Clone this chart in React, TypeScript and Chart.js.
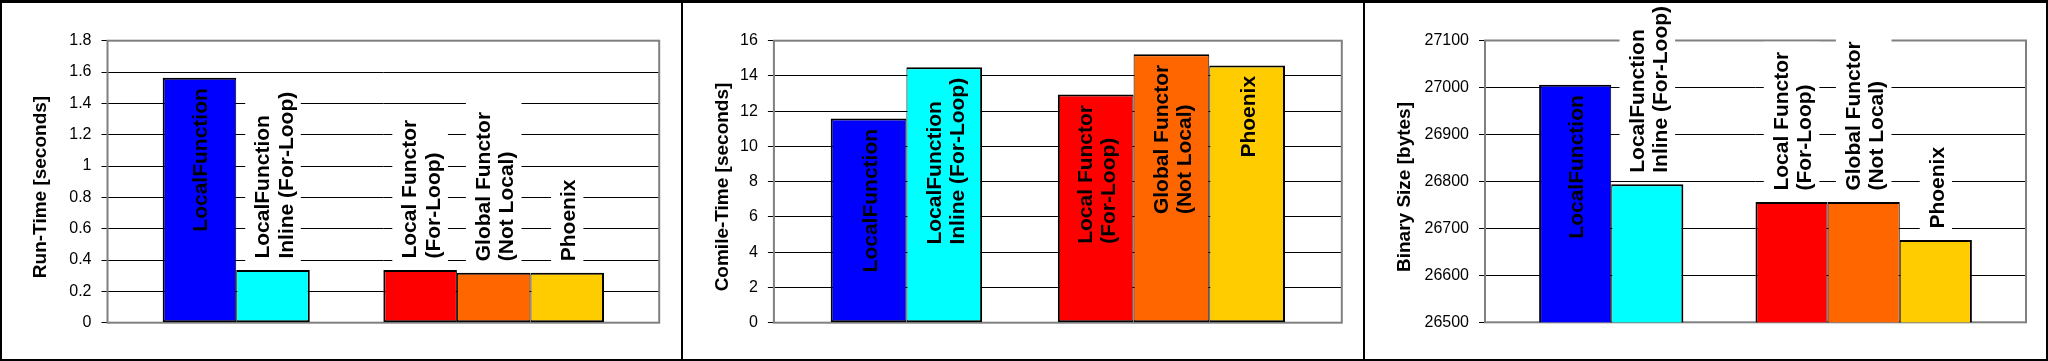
import { useEffect, useRef } from 'react';
import { Chart, registerables } from 'chart.js';

Chart.register(...registerables);

// ---------------- data ----------------
const categories = [''];
const seriesLabels: string[][] = [
  ['LocalFunction'],
  ['LocalFunction', 'Inline (For-Loop)'],
  [],
  ['Local Functor', '(For-Loop)'],
  ['Global Functor', '(Not Local)'],
  ['Phoenix'],
];
const seriesColors = ['#0000FF', '#00FFFF', '#FFFFFF', '#FF0000', '#FF6600', '#FFCC00'];

const runTime = [1.564, 0.336, null, 0.336, 0.319, 0.319];
const compileTime = [11.59, 14.49, null, 12.95, 15.23, 14.6];
const binarySize = [27006, 26794, null, 26756, 26756, 26675];

const runTimeTicks = [0, 0.2, 0.4, 0.6, 0.8, 1, 1.2, 1.4, 1.6, 1.8];
const compileTimeTicks = [0, 2, 4, 6, 8, 10, 12, 14, 16];
const binarySizeTicks = [26500, 26600, 26700, 26800, 26900, 27000, 27100];

const axisTitles = ['Run-Time [seconds]', 'Comile-Time [seconds]', 'Binary Size [bytes]'];

// ---------------- layout ----------------
const FONT = "'Liberation Sans', Arial, Helvetica, sans-serif";
const H = 361;

type PanelProps = {
  values: (number | null)[];
  ticks: number[];
  title: string;
  left: number;
  width: number;
  axisWidth: number;
  padRight: number;
  padTop: number;
  padBottom: number;
  titleBaseX: number;
  titleY: number;
};

function Panel(p: PanelProps) {
  const ref = useRef<HTMLCanvasElement | null>(null);
  useEffect(() => {
    if (!ref.current) return;
    const fs = 21;
    const lineH = 23.3;
    const n = p.values.length;
    const datasets = p.values.map((v, i) => {
      const hasL = i > 0 && p.values[i - 1] != null;
      const hasR = i < n - 1 && p.values[i + 1] != null;
      return {
        label: seriesLabels[i].join(' '),
        data: [v],
        backgroundColor: seriesColors[i],
        borderColor: '#000',
        borderWidth: { top: 2, bottom: 2, left: hasL ? 1 : 2, right: hasR ? 1 : 2 },
        borderSkipped: false,
        inflateAmount: 0,
      };
    });

    const borderPlugin = {
      id: 'plotBorder',
      beforeDatasetsDraw(chart: any) {
        const { left, top, right, bottom } = chart.chartArea;
        const ctx = chart.ctx;
        ctx.save();
        ctx.strokeStyle = '#808080';
        ctx.lineWidth = 2;
        ctx.strokeRect(left, top, right - left, bottom - top);
        ctx.restore();
      },
    };

    const labelPlugin = {
      id: 'barLabels',
      afterDatasetsDraw(chart: any) {
        const ctx = chart.ctx;
        chart.data.datasets.forEach((ds: any, i: number) => {
          const lines = seriesLabels[i];
          if (!lines.length || ds.data[0] == null) return;
          const el = chart.getDatasetMeta(i).data[0];
          if (!el) return;
          const x = el.x;
          const y = el.y;
          ctx.save();
          ctx.font = `bold ${fs}px ${FONT}`;
          const L = Math.max(...lines.map((l) => ctx.measureText(l).width));
          const nl = lines.length;
          const outAnchor = y - 11.5;
          const outside = outAnchor - L >= 0;
          let anchor: number;
          if (outside) {
            const W = nl * lineH + 9;
            ctx.fillStyle = '#FFFFFF';
            ctx.fillRect(x - W / 2, outAnchor - L - 10, W, L + 10 + 6.5);
            anchor = outAnchor;
          } else {
            anchor = y + 10.5 + L;
          }
          ctx.fillStyle = '#000';
          ctx.translate(x, anchor);
          ctx.rotate(-Math.PI / 2);
          ctx.textAlign = 'left';
          ctx.textBaseline = 'alphabetic';
          lines.forEach((line, j) => {
            const off = 0.5 + (j - (nl - 1) / 2) * lineH;
            ctx.fillText(line, 0, off + 0.358 * fs);
          });
          ctx.restore();
        });
      },
    };

    const titlePlugin = {
      id: 'axisTitle',
      afterDraw(chart: any) {
        const ctx = chart.ctx;
        ctx.save();
        ctx.font = `bold 19px ${FONT}`;
        ctx.fillStyle = '#000';
        ctx.translate(p.titleBaseX, p.titleY);
        ctx.rotate(-Math.PI / 2);
        ctx.textAlign = 'center';
        ctx.textBaseline = 'alphabetic';
        ctx.fillText(p.title, 0, 0);
        ctx.restore();
      },
    };

    const chart = new Chart(ref.current, {
      type: 'bar',
      data: { labels: categories, datasets: datasets as any },
      options: {
        animation: false,
        responsive: false,
        devicePixelRatio: 1,
        layout: { padding: { left: 0, right: p.padRight, top: p.padTop, bottom: p.padBottom } },
        plugins: { legend: { display: false }, tooltip: { enabled: false }, title: { display: false } },
        datasets: { bar: { categoryPercentage: 0.8, barPercentage: 1.0 } },
        scales: {
          x: { type: 'category', display: false, offset: true, grid: { display: false } },
          y: {
            type: 'linear',
            min: p.ticks[0],
            max: p.ticks[p.ticks.length - 1],
            beginAtZero: false,
            border: { display: false },
            grid: { color: '#000', lineWidth: 1, drawTicks: true, tickLength: 6, tickColor: '#000' },
            ticks: {
              autoSkip: false,
              padding: 10,
              color: '#000',
              font: { family: FONT, size: 16 },
              callback: (v: any) => String(v),
            },
            afterBuildTicks: (scale: any) => {
              scale.ticks = p.ticks.map((v) => ({ value: v }));
            },
            afterFit: (scale: any) => {
              scale.width = p.axisWidth;
            },
          },
        },
      } as any,
      plugins: [borderPlugin, labelPlugin, titlePlugin],
    });
    return () => chart.destroy();
  }, []);
  return (
    <canvas
      ref={ref}
      width={p.width}
      height={H}
      style={{ position: 'absolute', left: p.left, top: 0, width: p.width, height: H }}
    />
  );
}

export default function App() {
  useEffect(() => {
    document.body.style.margin = '0';
  }, []);
  const line = (s: React.CSSProperties) => (
    <div style={{ position: 'absolute', background: '#000', ...s }} />
  );
  return (
    <div style={{ position: 'absolute', left: 0, top: 0, width: 2048, height: H, background: '#fff', overflow: 'hidden' }}>
      <Panel values={runTime} ticks={runTimeTicks} title={axisTitles[0]} left={0} width={682}
        axisWidth={107.5} padRight={22.8} padTop={40.7} padBottom={38.3} titleBaseX={46} titleY={187} />
      <Panel values={compileTime} ticks={compileTimeTicks} title={axisTitles[1]} left={682} width={682}
        axisWidth={91.9} padRight={22.2} padTop={40.7} padBottom={38.3} titleBaseX={46} titleY={187} />
      <Panel values={binarySize} ticks={binarySizeTicks} title={axisTitles[2]} left={1364} width={684}
        axisWidth={121} padRight={22} padTop={40.5} padBottom={38.7} titleBaseX={45.5} titleY={187} />
      {line({ left: 0, top: 0, width: 2048, height: 3 })}
      {line({ left: 0, top: 359, width: 2048, height: 2 })}
      {line({ left: 0, top: 0, width: 2, height: H })}
      {line({ left: 2046, top: 0, width: 2, height: H })}
      {line({ left: 681, top: 0, width: 2, height: H })}
      {line({ left: 1363, top: 0, width: 2, height: H })}
    </div>
  );
}
